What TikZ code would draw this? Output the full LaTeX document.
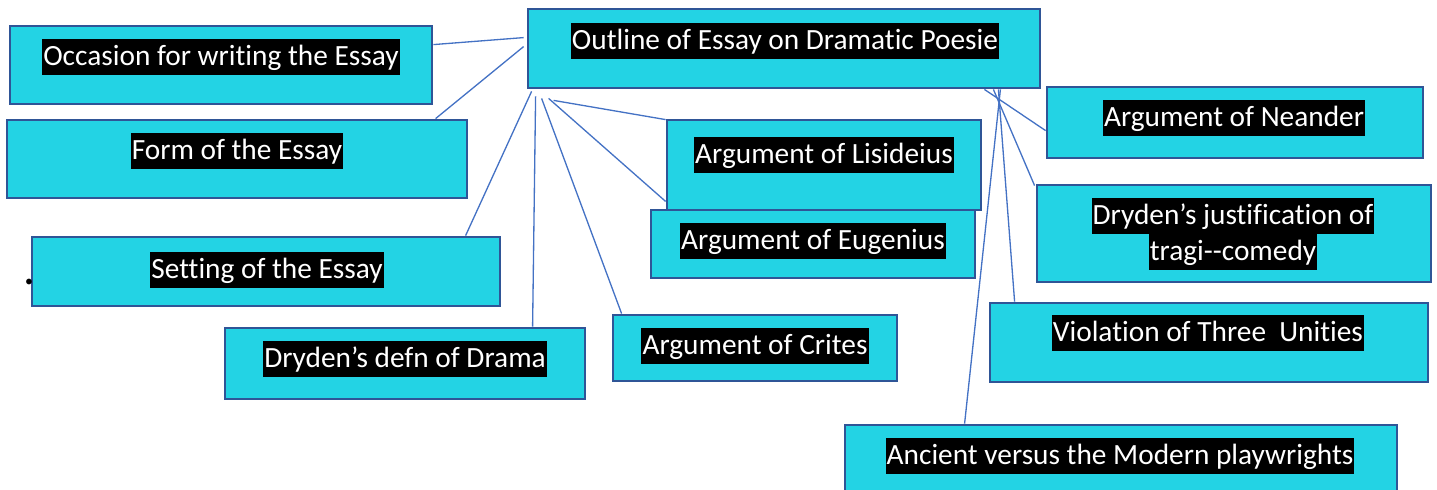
\documentclass[tikz,border=0pt]{standalone}
\usepackage{fontspec}
\setmainfont{Carlito}[Ligatures={NoCommon}]
\usetikzlibrary{calc,fit}
\definecolor{boxfill}{HTML}{23D3E4}
\definecolor{boxline}{HTML}{2F5597}
\definecolor{linkc}{HTML}{4472C4}
\begin{document}
\begin{tikzpicture}[x=0.02cm,y=-0.02cm,
  box/.style={draw=boxline, line width=1.6pt, fill=boxfill, inner sep=0pt},
  lbl/.style={fill=black, text=white, font=\fontsize{16.7}{19}\selectfont,
    inner xsep=0.6pt, inner ysep=0pt, text height=15pt, text depth=5.4pt, yshift=-1.2pt},
  link/.style={draw=linkc, line width=0.75pt}]
\useasboundingbox (0,0) rectangle (1437,490);
\clip (0,0) rectangle (1437,490);
% boxes
\node[box, fit={(10,26)(432,104)}] (occ) {};
\node[box, fit={(528,9)(1040,88)}] (outline) {};
\node[box, fit={(7,120)(467,198)}] (form) {};
\node[box, fit={(1047,87)(1423,158)}] (neander) {};
\node[box, fit={(667,120)(981,210)}] (lis) {};
\node[box, fit={(651,210)(975,278)}] (eug) {};
\node[box, fit={(1037,185)(1431,282)}] (just) {};
\node[box, fit={(32,237)(500,306)}] (setting) {};
\node[box, fit={(225,328)(585,399)}] (drama) {};
\node[box, fit={(613,315)(897,381)}] (crites) {};
\node[box, fit={(990,303)(1428,382)}] (viol) {};
\node[box, fit={(845,425)(1397,500)}] (anc) {};
% labels
\node[lbl] (occT) at (221,55) {Occasion for writing the Essay};
\node[lbl] (outlineT) at (785,39) {Outline of Essay on Dramatic Poesie};
\node[lbl] (formT) at (237,149) {Form of the Essay};
\node[lbl] (neanderT) at (1234,116) {Argument of Neander};
\node[lbl] (lisT) at (824,153) {Argument of Lisideius};
\node[lbl] (eugT) at (813,239) {Argument of Eugenius};
\node[lbl] (justT1) at (1233,214) {Dryden’s justification of};
\node[lbl] (justT2) at (1233,250) {tragi-{}-comedy};
\node[lbl] (settingT) at (267,268) {Setting of the Essay};
\node[lbl] (dramaT) at (405,357) {Dryden’s defn of Drama};
\node[lbl] (critesT) at (755,344) {Argument of Crites};
\node[lbl] (violT) at (1208,331) {Violation of Three\ \ Unities};
\node[lbl] (ancT) at (1120,454) {Ancient versus the Modern playwrights};
\node[inner sep=0pt, anchor=base, font=\fontsize{27}{27}\selectfont] (dot) at (29.5,284.5) {.};
% connectors
\draw[link] ($(occ.north east)+(0,20)$) -- ($(outline.north west)+(-3,30)$);
\draw[link] ($(form.north west)+(430,0)$) -- ($(outline.north west)+(-3,39)$);
\draw[link] ($(setting.north west)+(435,0)$) -- ($(outline.south west)+(5,2)$);
\draw[link] ($(drama.north west)+(309,0)$) -- ($(outline.south west)+(9,7)$);
\draw[link] ($(crites.north west)+(10,0)$) -- ($(outline.south west)+(15,9)$);
\draw[link] ($(lis.south west)+(0,-10)$) -- ($(outline.south west)+(22,9)$);
\draw[link] ($(lis.north west)+(0,1)$) -- ($(outline.south west)+(27,11)$);
\draw[link] ($(outline.south east)+(-57,0)$) -- ($(neander.north west)+(0,45)$);
\draw[link] ($(outline.south east)+(-48,0)$) -- ($(just.north west)+(-1,2)$);
\draw[link] ($(outline.south east)+(-43,0)$) -- ($(viol.north west)+(26,0)$);
\draw[link] ($(outline.south east)+(-41,0)$) -- ($(anc.north west)+(121,0)$);
\end{tikzpicture}
\end{document}
